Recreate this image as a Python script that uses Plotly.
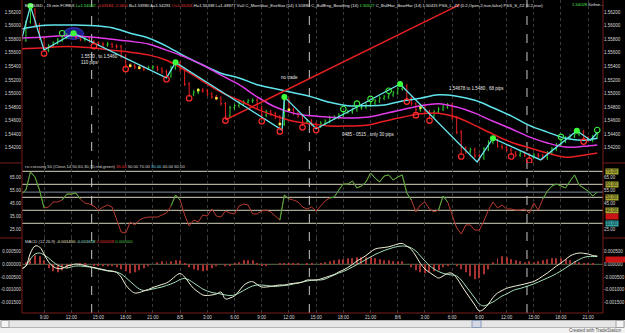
import plotly.graph_objects as go
import pandas as pd

# ---------------- data ----------------
bar_times = pd.date_range("2008-08-04 06:30", periods=128, freq="30min")

opens = [1.5576, 1.5579, 1.5606, 1.5623, 1.5601, 1.5582, 1.5564, 1.5570, 1.5575, 1.5579,
         1.5583, 1.5586, 1.5588, 1.5583, 1.5580, 1.5582, 1.5577, 1.5575, 1.5573, 1.5572,
         1.5573, 1.5570, 1.5569, 1.5555, 1.5542, 1.5541, 1.5539, 1.5538, 1.5536, 1.5538,
         1.5539, 1.5536, 1.5532, 1.5526, 1.5538, 1.5545, 1.5535, 1.5514, 1.5499, 1.5502,
         1.5505, 1.5504, 1.5499, 1.5495, 1.5493, 1.5485, 1.5467, 1.5479, 1.5482, 1.5486,
         1.5487, 1.5489, 1.5490, 1.5479, 1.5468, 1.5473, 1.5470, 1.5465, 1.5455, 1.5490,
         1.5476, 1.5471, 1.5467, 1.5458, 1.5459, 1.5455, 1.5452, 1.5456, 1.5459, 1.5464,
         1.5465, 1.5468, 1.5471, 1.5473, 1.5476, 1.5479, 1.5480, 1.5483, 1.5486, 1.5489,
         1.5493, 1.5495, 1.5498, 1.5501, 1.5507, 1.5511, 1.5493, 1.5485, 1.5476, 1.5479,
         1.5473, 1.5467, 1.5473, 1.5477, 1.5480, 1.5483, 1.5464, 1.5443, 1.5420, 1.5414,
         1.5417, 1.5408, 1.5405, 1.5418, 1.5428, 1.5431, 1.5422, 1.5420, 1.5417, 1.5412,
         1.5409, 1.5412, 1.5409, 1.5406, 1.5409, 1.5408, 1.5405, 1.5412, 1.5418, 1.5424,
         1.5430, 1.5434, 1.5437, 1.5440, 1.5443, 1.5434, 1.5431, 1.5436]
highs = [1.5585, 1.5608, 1.5629, 1.5626, 1.5604, 1.5585, 1.5573, 1.5577, 1.5582, 1.5586,
         1.5589, 1.5591, 1.5591, 1.5586, 1.5585, 1.5583, 1.5579, 1.5577, 1.5576, 1.5576,
         1.5575, 1.5573, 1.5572, 1.5558, 1.5545, 1.5544, 1.5542, 1.5541, 1.5541, 1.5542,
         1.5541, 1.5539, 1.5535, 1.5541, 1.5546, 1.5548, 1.5538, 1.5517, 1.5505, 1.5508,
         1.5508, 1.5507, 1.5502, 1.5498, 1.5496, 1.5487, 1.5482, 1.5485, 1.5489, 1.5490,
         1.5492, 1.5493, 1.5493, 1.5482, 1.5476, 1.5476, 1.5473, 1.5468, 1.5495, 1.5493,
         1.5479, 1.5474, 1.5470, 1.5462, 1.5462, 1.5458, 1.5459, 1.5462, 1.5467, 1.5468,
         1.5471, 1.5474, 1.5476, 1.5479, 1.5482, 1.5483, 1.5486, 1.5489, 1.5492, 1.5496,
         1.5498, 1.5501, 1.5504, 1.5510, 1.5514, 1.5514, 1.5496, 1.5487, 1.5482, 1.5482,
         1.5476, 1.5476, 1.5480, 1.5483, 1.5486, 1.5486, 1.5467, 1.5446, 1.5422, 1.5420,
         1.5420, 1.5411, 1.5421, 1.5431, 1.5436, 1.5434, 1.5425, 1.5422, 1.5420, 1.5415,
         1.5415, 1.5415, 1.5412, 1.5412, 1.5412, 1.5411, 1.5415, 1.5421, 1.5427, 1.5433,
         1.5437, 1.5440, 1.5443, 1.5446, 1.5446, 1.5437, 1.5439, 1.5443]
lows = [1.5573, 1.5576, 1.5603, 1.5597, 1.5579, 1.5561, 1.5561, 1.5567, 1.5572, 1.5576,
        1.5580, 1.5583, 1.5580, 1.5577, 1.5577, 1.5575, 1.5572, 1.5570, 1.5569, 1.5569,
        1.5567, 1.5566, 1.5552, 1.5538, 1.5538, 1.5536, 1.5535, 1.5533, 1.5535, 1.5535,
        1.5533, 1.5529, 1.5523, 1.5523, 1.5535, 1.5532, 1.5511, 1.5495, 1.5496, 1.5499,
        1.5501, 1.5496, 1.5492, 1.5490, 1.5482, 1.5462, 1.5464, 1.5476, 1.5479, 1.5483,
        1.5485, 1.5486, 1.5476, 1.5461, 1.5465, 1.5467, 1.5462, 1.5446, 1.5452, 1.5473,
        1.5468, 1.5464, 1.5452, 1.5455, 1.5452, 1.5448, 1.5449, 1.5453, 1.5456, 1.5461,
        1.5462, 1.5465, 1.5470, 1.5470, 1.5473, 1.5476, 1.5477, 1.5480, 1.5483, 1.5486,
        1.5490, 1.5492, 1.5495, 1.5498, 1.5504, 1.5490, 1.5482, 1.5470, 1.5473, 1.5470,
        1.5462, 1.5464, 1.5470, 1.5474, 1.5477, 1.5461, 1.5440, 1.5409, 1.5411, 1.5411,
        1.5405, 1.5400, 1.5402, 1.5415, 1.5425, 1.5420, 1.5417, 1.5414, 1.5409, 1.5406,
        1.5406, 1.5406, 1.5403, 1.5403, 1.5405, 1.5402, 1.5402, 1.5409, 1.5415, 1.5421,
        1.5427, 1.5431, 1.5434, 1.5437, 1.5431, 1.5428, 1.5428, 1.5433]
closes = [1.5579, 1.5606, 1.5623, 1.5601, 1.5582, 1.5564, 1.5570, 1.5575, 1.5579, 1.5583,
          1.5586, 1.5588, 1.5583, 1.5580, 1.5582, 1.5577, 1.5575, 1.5573, 1.5572, 1.5573,
          1.5570, 1.5569, 1.5555, 1.5542, 1.5541, 1.5539, 1.5538, 1.5536, 1.5538, 1.5539,
          1.5536, 1.5532, 1.5526, 1.5538, 1.5545, 1.5535, 1.5514, 1.5499, 1.5502, 1.5505,
          1.5504, 1.5499, 1.5495, 1.5493, 1.5485, 1.5467, 1.5479, 1.5482, 1.5486, 1.5487,
          1.5489, 1.5490, 1.5479, 1.5468, 1.5473, 1.5470, 1.5465, 1.5455, 1.5490, 1.5476,
          1.5471, 1.5467, 1.5458, 1.5459, 1.5455, 1.5452, 1.5456, 1.5459, 1.5464, 1.5465,
          1.5468, 1.5471, 1.5473, 1.5476, 1.5479, 1.5480, 1.5483, 1.5486, 1.5489, 1.5493,
          1.5495, 1.5498, 1.5501, 1.5507, 1.5511, 1.5493, 1.5485, 1.5476, 1.5479, 1.5473,
          1.5467, 1.5473, 1.5477, 1.5480, 1.5483, 1.5464, 1.5443, 1.5420, 1.5414, 1.5417,
          1.5408, 1.5405, 1.5418, 1.5428, 1.5431, 1.5422, 1.5420, 1.5417, 1.5412, 1.5409,
          1.5412, 1.5409, 1.5406, 1.5409, 1.5408, 1.5405, 1.5412, 1.5418, 1.5424, 1.5430,
          1.5434, 1.5437, 1.5440, 1.5443, 1.5434, 1.5431, 1.5436, 1.5440]

band_idx = list(range(0, 128, 4)) + [127]
keltner_upper = [1.5595, 1.5600, 1.5601, 1.5601, 1.5600, 1.5597, 1.5589, 1.5582, 1.5570, 1.5555,
                 1.5542, 1.5530, 1.5523, 1.5513, 1.5507, 1.5501, 1.5495, 1.5487, 1.5482, 1.5482,
                 1.5483, 1.5489, 1.5493, 1.5498, 1.5496, 1.5490, 1.5479, 1.5467, 1.5453, 1.5443,
                 1.5434, 1.5431, 1.5434]
keltner_mid = [1.5582, 1.5583, 1.5585, 1.5585, 1.5583, 1.5580, 1.5577, 1.5573, 1.5564, 1.5554,
               1.5542, 1.5527, 1.5513, 1.5495, 1.5480, 1.5471, 1.5467, 1.5465, 1.5464, 1.5465,
               1.5470, 1.5476, 1.5482, 1.5485, 1.5480, 1.5471, 1.5459, 1.5448, 1.5436, 1.5427,
               1.5421, 1.5422, 1.5424]
keltner_lower = [1.5566, 1.5567, 1.5569, 1.5569, 1.5567, 1.5564, 1.5561, 1.5557, 1.5549, 1.5535,
                 1.5518, 1.5502, 1.5490, 1.5477, 1.5467, 1.5459, 1.5455, 1.5452, 1.5452, 1.5453,
                 1.5459, 1.5465, 1.5470, 1.5471, 1.5465, 1.5453, 1.5440, 1.5428, 1.5420, 1.5412,
                 1.5406, 1.5409, 1.5412]

zigzag_times = ["2008-08-04 06:30", "2008-08-04 07:30", "2008-08-04 09:00", "2008-08-04 12:15",
                "2008-08-04 22:30", "2008-08-04 23:30", "2008-08-05 11:15", "2008-08-05 11:30",
                "2008-08-05 15:00", "2008-08-06 00:15", "2008-08-06 08:45", "2008-08-06 10:30",
                "2008-08-06 15:45", "2008-08-06 19:45", "2008-08-06 21:15", "2008-08-06 22:00"]
zigzag_prices = [1.5579, 1.5629, 1.5564, 1.5589, 1.5523, 1.5546, 1.5446, 1.5495,
                 1.5448, 1.5514, 1.5399, 1.5434, 1.5402, 1.5445, 1.5431, 1.5442]
peak_points = [1, 3, 5, 7, 9, 11, 13]

trend_times = ["2008-08-05 05:00", "2008-08-06 06:50"]
trend_prices = [1.5461, 1.5631]

red_circle_bars = [5, 16, 23, 32, 37, 45, 53, 57, 62, 65, 85, 87, 90, 97, 108, 112, 124]
green_circle_bars = [9, 71, 74, 77, 81, 119, 127]
yellow_bars = [24, 26, 39, 43, 57, 59, 88]

rsi = [52.5, 55.6, 69.5, 65.6, 55.6, 41.8, 42.5, 46.4, 46.4, 47.9,
       52.5, 52.5, 53.3, 48.7, 45.6, 44.8, 43.3, 40.2, 42.5, 44.1,
       42.5, 32.5, 23.3, 22.5, 31.0, 28.7, 32.5, 34.1, 34.8, 34.8,
       34.8, 36.4, 37.9, 43.3, 51.8, 47.9, 36.4, 27.9, 32.5, 31.0,
       36.4, 35.6, 41.0, 35.6, 34.8, 39.5, 37.9, 37.2, 43.3, 44.8,
       44.1, 37.2, 37.2, 39.5, 40.2, 38.7, 35.6, 32.5, 51.8, 48.7,
       47.9, 46.4, 42.5, 41.0, 42.5, 39.5, 43.3, 47.2, 49.5, 50.2,
       55.6, 60.2, 60.2, 62.5, 57.2, 58.7, 61.8, 68.7, 64.8, 61.8,
       66.4, 67.2, 63.3, 65.6, 67.2, 53.3, 47.9, 38.7, 44.1, 46.4,
       41.0, 38.7, 40.2, 51.0, 46.4, 35.6, 26.4, 21.8, 28.7, 28.7,
       24.8, 24.8, 31.8, 40.2, 46.4, 41.8, 44.1, 41.0, 41.0, 40.2,
       40.2, 41.0, 37.9, 45.6, 40.2, 48.7, 54.8, 58.7, 60.2, 58.7,
       57.2, 62.5, 67.2, 59.5, 57.2, 54.8, 51.0, 54.1]
rsi_levels = [70, 60, 50, 40, 30]
rsi_avg_level = 54

macd = [-0.000185, -0.000067, 0.000446, 0.000722, 0.000683, 0.000406, 0.000091, -0.000087, -0.000166, -0.000166,
        -0.000067, -0.000028, 0.000012, -0.000008, -0.000047, -0.000087, -0.000126, -0.000166, -0.000205, -0.000245,
        -0.000264, -0.000324, -0.000501, -0.000817, -0.001014, -0.001133, -0.001113, -0.001054, -0.000994, -0.000915,
        -0.000856, -0.000797, -0.000738, -0.000620, -0.000462, -0.000363, -0.000501, -0.000738, -0.000955, -0.001093,
        -0.001211, -0.001231, -0.001211, -0.001172, -0.001093, -0.001369, -0.001330, -0.001251, -0.001054, -0.000837,
        -0.000718, -0.000687, -0.000797, -0.000896, -0.000896, -0.000876, -0.000837, -0.000817, -0.000817, -0.000777,
        -0.000750, -0.000738, -0.000698, -0.000620, -0.000620, -0.000620, -0.000580, -0.000521, -0.000462, -0.000402,
        -0.000304, -0.000225, -0.000126, -0.000008, 0.000130, 0.000229, 0.000347, 0.000485, 0.000604, 0.000643,
        0.000663, 0.000691, 0.000742, 0.000801, 0.000821, 0.000722, 0.000584, 0.000328, 0.000032, -0.000185,
        -0.000324, -0.000442, -0.000541, -0.000462, -0.000355, -0.000355, -0.000541, -0.000817, -0.001093, -0.001350,
        -0.001606, -0.001843, -0.001764, -0.001567, -0.001310, -0.001133, -0.001034, -0.000947, -0.000896, -0.000856,
        -0.000817, -0.000777, -0.000726, -0.000679, -0.000580, -0.000462, -0.000343, -0.000205, -0.000067, 0.000051,
        0.000189, 0.000328, 0.000406, 0.000446, 0.000434, 0.000406, 0.000347, 0.000328]
signal = [-0.000185, -0.000067, 0.000209, 0.000406, 0.000446, 0.000367, 0.000249, 0.000091, -0.000028, -0.000107,
          -0.000146, -0.000107, -0.000067, -0.000067, -0.000087, -0.000107, -0.000146, -0.000185, -0.000225, -0.000264,
          -0.000284, -0.000304, -0.000383, -0.000521, -0.000679, -0.000837, -0.000975, -0.001034, -0.001014, -0.000975,
          -0.000935, -0.000896, -0.000837, -0.000777, -0.000698, -0.000600, -0.000560, -0.000620, -0.000738, -0.000856,
          -0.000975, -0.001054, -0.001113, -0.001144, -0.001172, -0.001211, -0.001231, -0.001211, -0.001133, -0.001034,
          -0.000935, -0.000856, -0.000817, -0.000817, -0.000837, -0.000856, -0.000876, -0.000856, -0.000837, -0.000817,
          -0.000777, -0.000738, -0.000698, -0.000659, -0.000631, -0.000620, -0.000620, -0.000580, -0.000501, -0.000422,
          -0.000343, -0.000284, -0.000205, -0.000107, -0.000008, 0.000091, 0.000189, 0.000288, 0.000387, 0.000466,
          0.000545, 0.000604, 0.000663, 0.000702, 0.000722, 0.000702, 0.000643, 0.000525, 0.000328, 0.000130,
          -0.000047, -0.000185, -0.000284, -0.000355, -0.000402, -0.000422, -0.000462, -0.000620, -0.000856, -0.001093,
          -0.001330, -0.001567, -0.001645, -0.001567, -0.001488, -0.001369, -0.001251, -0.001172, -0.001073, -0.000994,
          -0.000955, -0.000896, -0.000837, -0.000777, -0.000698, -0.000620, -0.000541, -0.000462, -0.000363, -0.000264,
          -0.000146, -0.000028, 0.000091, 0.000189, 0.000268, 0.000308, 0.000308, 0.000308]
macd_hist = [0, 0.000079, 0.000237, 0.000355, 0.000316, 0.000158, -0.000158, -0.000276, -0.000316, -0.000237,
             -0.000158, -0.000079, 0, 0.000039, 0.000039, 0, -0.000039, -0.000039, -0.000079, -0.000079,
             -0.000079, -0.000118, -0.000197, -0.000276, -0.000355, -0.000316, -0.000237, -0.000158, -0.000079, 0,
             0.000079, 0.000118, 0.000118, 0.000118, 0.000158, 0.000158, 0.000039, -0.000118, -0.000197, -0.000237,
             -0.000276, -0.000237, -0.000158, -0.000079, 0, -0.000079, -0.000039, 0.000039, 0.000079, 0.000158,
             0.000158, 0.000158, 0.000039, -0.000039, -0.000039, 0, 0, 0.000039, 0.000039, 0.000039,
             0.000039, 0.000039, 0, 0.000039, 0.000039, 0, 0.000039, 0.000079, 0.000118, 0.000158,
             0.000197, 0.000197, 0.000237, 0.000237, 0.000276, 0.000276, 0.000276, 0.000276, 0.000237, 0.000197,
             0.000158, 0.000158, 0.000118, 0.000118, 0.000118, 0, -0.000118, -0.000237, -0.000316, -0.000355,
             -0.000316, -0.000276, -0.000237, -0.000118, -0.000039, 0, -0.000079, -0.000197, -0.000316, -0.000474,
             -0.000592, -0.000552, -0.000395, -0.000197, 0.000079, 0.000237, 0.000316, 0.000276, 0.000197, 0.000158,
             0.000118, 0.000079, 0.000118, 0.000079, 0.000118, 0.000158, 0.000197, 0.000237, 0.000237, 0.000237,
             0.000197, 0.000158, 0.000118, 0.000079, 0.000039, 0.000039, 0.000039, 0]

tick_times = pd.date_range("2008-08-04 09:00", "2008-08-06 21:00", freq="3h")
tick_text = ["9:00", "12:00", "15:00", "18:00", "21:00", "8/5", "3:00", "6:00", "9:00", "12:00", "15:00",
             "18:00", "21:00", "8/6", "3:00", "6:00", "9:00", "12:00", "15:00", "18:00", "21:00"]
session_breaks = ["2008-08-04 14:15", "2008-08-05 14:15", "2008-08-06 14:15"]

price_ticks = [1.542, 1.544, 1.546, 1.548, 1.550, 1.552, 1.554, 1.556, 1.558, 1.560, 1.562]
rsi_ticks_left = [25, 35, 45, 55, 65]
rsi_ticks_right = [25, 45, 55, 65]
macd_ticks = [0.0005, 0.0, -0.0005, -0.001, -0.0015]
macd_tick_text = ["0.000500", "0.000000", "-0.000500", "-0.001000", "-0.001500"]

# ---------------- layout helpers (pixel -> paper) ----------------
W, H = 625, 333
ML, MR, MT, MB = 22, 22, 0, 20
PW, PH = W - ML - MR, H - MT - MB


def px(x):
    return (x - ML) / PW


def py(y):
    return (H - MB - y) / PH


FONT = "Liberation Sans, Arial, sans-serif"
TXT = "#d8d8d8"
FS = 4.5
HFS = 4.2

price_dom = [py(163), 1]
rsi_dom = [py(238), py(163)]
macd_dom = [0, py(238)]

fig = go.Figure()

# ---------------- price panel ----------------
band_times = [bar_times[i] for i in band_idx]
fig.add_trace(go.Scatter(x=band_times, y=keltner_upper, mode="lines", line=dict(color="#5fe4ec", width=1.5, shape="spline"), yaxis="y"))
fig.add_trace(go.Scatter(x=band_times, y=keltner_mid, mode="lines", line=dict(color="#e03ce8", width=1.5, shape="spline"), yaxis="y"))
fig.add_trace(go.Scatter(x=band_times, y=keltner_lower, mode="lines", line=dict(color="#e81e24", width=1.5, shape="spline"), yaxis="y"))

fig.add_trace(go.Ohlc(x=bar_times, open=opens, high=highs, low=lows, close=closes, yaxis="y",
                      increasing=dict(line=dict(color="#2ec82e", width=1)),
                      decreasing=dict(line=dict(color="#e82020", width=1)), tickwidth=0.25))

fig.add_trace(go.Scatter(x=trend_times, y=trend_prices, mode="lines", line=dict(color="#e82020", width=1.4), yaxis="y"))
fig.add_trace(go.Scatter(x=zigzag_times, y=zigzag_prices, mode="lines", line=dict(color="#6ae8f2", width=1.3), yaxis="y"))

fig.add_trace(go.Scatter(x=[bar_times[i] for i in red_circle_bars], y=[lows[i] - 0.0002 for i in red_circle_bars],
                         mode="markers", marker=dict(symbol="circle-open", size=5.5, color="#ff2a2a", line=dict(width=1.2)), yaxis="y"))
fig.add_trace(go.Scatter(x=[bar_times[i] for i in green_circle_bars], y=[highs[i] + 0.0003 for i in green_circle_bars],
                         mode="markers", marker=dict(symbol="circle-open", size=5.5, color="#3ef03e", line=dict(width=1.1)), yaxis="y"))
fig.add_trace(go.Scatter(x=[bar_times[i] for i in yellow_bars], y=[closes[i] for i in yellow_bars],
                         mode="markers", marker=dict(symbol="square", size=2.5, color="#f0f040"), yaxis="y"))
fig.add_trace(go.Scatter(x=[zigzag_times[i] for i in peak_points], y=[zigzag_prices[i] for i in peak_points],
                         mode="markers", marker=dict(symbol="circle", size=6, color="#3cff3c"), yaxis="y"))
fig.add_trace(go.Scatter(x=[bar_times[0]], y=[closes[0]], mode="markers", marker=dict(opacity=0), yaxis="y4"))

# ---------------- RSI panel ----------------
n = len(rsi)
rsi_green = [v if (v >= 50 or (i > 0 and rsi[i - 1] >= 50) or (i < n - 1 and rsi[i + 1] >= 50)) else None
             for i, v in enumerate(rsi)]
fig.add_trace(go.Scatter(x=bar_times, y=rsi, mode="lines", line=dict(color="#b83a30", width=1), yaxis="y2"))
fig.add_trace(go.Scatter(x=bar_times, y=rsi_green, mode="lines", line=dict(color="#3cb83c", width=1), yaxis="y2", connectgaps=False))
fig.add_trace(go.Scatter(x=[bar_times[0]], y=[rsi[0]], mode="markers", marker=dict(opacity=0), yaxis="y5"))

# ---------------- MACD panel ----------------
fig.add_trace(go.Bar(x=bar_times, y=macd_hist, marker=dict(color="#a83232", line=dict(width=0)), width=0.22 * 1800000, yaxis="y3"))
fig.add_trace(go.Scatter(x=bar_times, y=signal, mode="lines", line=dict(color="#a4e0bc", width=1, shape="spline"), yaxis="y3"))
fig.add_trace(go.Scatter(x=bar_times, y=macd, mode="lines", line=dict(color="#f2f2d8", width=1, shape="spline"), yaxis="y3"))
fig.add_trace(go.Scatter(x=[bar_times[0]], y=[macd[0]], mode="markers", marker=dict(opacity=0), yaxis="y6"))

# ---------------- shapes ----------------
shapes = []
pk = pd.Timestamp(zigzag_times[3])
shapes.append(dict(type="circle", xref="x", yref="y", layer="below",
                   x0=pk - pd.Timedelta(minutes=66), x1=pk + pd.Timedelta(minutes=66),
                   y0=zigzag_prices[3] - 0.0009, y1=zigzag_prices[3] + 0.0008,
                   fillcolor="#1a1a8a", line=dict(color="#3a3ad0", width=1)))
for lv in rsi_levels:
    shapes.append(dict(type="line", xref="paper", yref="y2", x0=0, x1=1, y0=lv, y1=lv,
                       line=dict(color="#d6d4bc", width=1), layer="below"))
shapes.append(dict(type="line", xref="paper", yref="y2", x0=0, x1=1, y0=rsi_avg_level, y1=rsi_avg_level,
                   line=dict(color="#7c8ea0", width=1), layer="below"))
shapes.append(dict(type="line", xref="paper", yref="y3", x0=0, x1=1, y0=0, y1=0,
                   line=dict(color="#55704a", width=1), layer="below"))
for sb in session_breaks:
    shapes.append(dict(type="line", xref="x", yref="paper", x0=sb, x1=sb, y0=0, y1=1,
                       line=dict(color="#c8c8c8", width=1, dash="dash"), layer="below"))
FR = "#7a1c1c"
shapes.append(dict(type="line", xref="paper", yref="paper", x0=0, x1=0, y0=0, y1=1, line=dict(color=FR, width=1)))
shapes.append(dict(type="line", xref="paper", yref="paper", x0=1, x1=1, y0=0, y1=1, line=dict(color=FR, width=1)))
shapes.append(dict(type="line", xref="paper", yref="paper", x0=0, x1=1, y0=0, y1=0, line=dict(color=FR, width=1)))
for yy in (163, 238):
    shapes.append(dict(type="line", xref="paper", yref="paper", x0=px(0), x1=0, y0=py(yy), y1=py(yy), line=dict(color=FR, width=1)))
    shapes.append(dict(type="line", xref="paper", yref="paper", x0=1, x1=px(W), y0=py(yy), y1=py(yy), line=dict(color=FR, width=1)))
shapes.append(dict(type="rect", xref="paper", yref="paper", x0=px(0), x1=px(W), y0=py(H), y1=py(320),
                   fillcolor="#f2f2f2", line=dict(width=0)))
shapes.append(dict(type="rect", xref="paper", yref="paper", x0=px(1), x1=px(W - 1), y0=py(327.5), y1=py(320.5),
                   fillcolor="#e6e6e6", line=dict(color="#b4b4b4", width=1)))
shapes.append(dict(type="rect", xref="paper", yref="paper", x0=px(1), x1=px(9), y0=py(327.5), y1=py(320.5),
                   fillcolor="#f4f4f4", line=dict(color="#a0a0a0", width=1)))
shapes.append(dict(type="rect", xref="paper", yref="paper", x0=px(616), x1=px(624), y0=py(327.5), y1=py(320.5),
                   fillcolor="#f4f4f4", line=dict(color="#a0a0a0", width=1)))
shapes.append(dict(type="rect", xref="paper", yref="paper", x0=px(472), x1=px(481), y0=py(327.5), y1=py(320.5),
                   fillcolor="#d4d8e4", line=dict(color="#8898b8", width=1)))

# ---------------- annotations ----------------
G, R, Wt = "#4ee04e", "#e83a3a", "#e8e8e8"
price_header = (f'<span style="color:{Wt}">EURUSD - 15 min FOREX</span> <span style="color:{G}">L=1.54062</span> '
                f'<span style="color:{R}">-0.03184 -2.06%</span> B=1.53980 A=1.54291 <span style="color:{R}">O=1.55206</span> '
                f'H=1.55338 L=1.48977 V=0 C_MornStar_EveStar (14) 1.51880 C_BullEng_BearEng (14) '
                f'<span style="color:{G}">1.50527</span> C_BullHar_BearHar (14) 1.50415 '
                f'PSS_L_ZZ (0.2,Open,2,true,false) PSS_S_ZZ (0.2,true)')
price_header_end = f'<span style="color:{G}">1.54028</span> Keltne...'
rsi_header = (f'rsi crossing 50 (Close,14,50,60,30,70,red,green) <span style="color:{R}">35.00</span> '
              f'50.00 70.00 <span style="color:#7ad0e0">30.00</span> 40.00 60.00')
macd_header = ('MACD (12,26,9) <span style="color:#f2f2c8">-0.001400</span> <span style="color:#9ee0d0">-0.001608</span> '
               f'<span style="color:{R}">0.000208</span> <span style="color:#4ec04e">0.000000</span>')

ann = []
ann.append(dict(xref="paper", yref="paper", x=px(23), y=py(0.5), xanchor="left", yanchor="top", showarrow=False,
                text=price_header, font=dict(size=HFS, color=Wt, family=FONT)))
ann.append(dict(xref="paper", yref="paper", x=px(570), y=py(0.5), xanchor="left", yanchor="top", showarrow=False,
                text=price_header_end, font=dict(size=HFS, color=Wt, family=FONT)))
ann.append(dict(xref="paper", yref="paper", x=px(23), y=py(166), xanchor="left", yanchor="middle", showarrow=False,
                text=rsi_header, font=dict(size=HFS, color=TXT, family=FONT)))
ann.append(dict(xref="paper", yref="paper", x=px(23), y=py(241), xanchor="left", yanchor="middle", showarrow=False,
                text=macd_header, font=dict(size=HFS, color=TXT, family=FONT)))
note_font = dict(size=FS, color="#e8e8e8", family=FONT)
ann.append(dict(xref="x", yref="y", x="2008-08-04 12:50", y=1.5550, xanchor="left", yanchor="middle", showarrow=False,
                align="left", text="1.5570 , to 1.5460<br>110 pips", font=note_font))
ann.append(dict(xref="x", yref="y", x="2008-08-05 12:05", y=1.5524, xanchor="center", yanchor="middle", showarrow=False,
                text="no trade", font=note_font))
ann.append(dict(xref="x", yref="y", x="2008-08-05 17:35", y=1.5440, xanchor="left", yanchor="middle", showarrow=False,
                text="0485 - 0515 , only 30 pips", font=note_font))
ann.append(dict(xref="x", yref="y", x="2008-08-06 05:25", y=1.5507, xanchor="left", yanchor="middle", showarrow=False,
                text="1.54678 to 1.5480 , 68 pips", font=note_font))
for lv, bg in [(70, "#a8a830"), (60, "#a8a830"), (50, "#a8a830"), (40, "#a8a830"), (30, "#30a8a8"), (35, "#c81414")]:
    ann.append(dict(xref="paper", yref="y2", x=1.004, y=lv, xanchor="left", yanchor="middle", showarrow=False,
                    text=f"{lv:.2f}", bgcolor=bg, borderpad=0,
                    font=dict(size=FS, color="#1a1a1a" if lv != 35 else "#c81414", family=FONT)))
ann.append(dict(xref="paper", yref="y3", x=1.004, y=0.000208, xanchor="left", yanchor="middle", showarrow=False,
                text="0.000208", bgcolor="#c81414", borderpad=0, font=dict(size=FS, color="#c81414", family=FONT)))
ann.append(dict(xref="paper", yref="paper", x=px(W - 1), y=py(330.5), xanchor="right", yanchor="middle", showarrow=False,
                text="Created with TradeStation", font=dict(size=FS, color="#505050", family=FONT)))

axis_font = dict(size=FS, color=TXT, family=FONT)
common_y = dict(showgrid=False, zeroline=False, ticks="", showline=False, tickfont=axis_font, fixedrange=True)

fig.update_layout(
    width=W, height=H, autosize=False,
    margin=dict(l=ML, r=MR, t=MT, b=MB),
    paper_bgcolor="#000000", plot_bgcolor="#000000",
    showlegend=False, hovermode=False, barmode="overlay",
    shapes=shapes, annotations=ann,
    xaxis=dict(type="date", anchor="y3", domain=[0, 1], range=["2008-08-04 06:34", "2008-08-06 22:38"],
               tickmode="array", tickvals=list(tick_times), ticktext=tick_text, tickfont=axis_font, ticks="",
               showgrid=True, gridcolor="#3a3a3a", griddash="dot", gridwidth=1, zeroline=False,
               showline=False, rangeslider=dict(visible=False)),
    yaxis=dict(domain=price_dom, anchor="x", range=[1.53974, 1.5638], tickmode="array", tickvals=price_ticks,
               ticktext=[f"{v:.5f}" for v in price_ticks], side="left", **common_y),
    yaxis4=dict(overlaying="y", anchor="x", side="right", range=[1.53974, 1.5638], tickmode="array",
                tickvals=price_ticks, ticktext=[f"{v:.5f}" for v in price_ticks], **common_y),
    yaxis2=dict(domain=rsi_dom, anchor="x", range=[18.7, 76.4], tickmode="array", tickvals=rsi_ticks_left,
                ticktext=[f"{v:.2f}" for v in rsi_ticks_left], side="left", **common_y),
    yaxis5=dict(overlaying="y2", anchor="x", side="right", range=[18.7, 76.4], tickmode="array",
                tickvals=rsi_ticks_right, ticktext=[f"{v:.2f}" for v in rsi_ticks_right], **common_y),
    yaxis3=dict(domain=macd_dom, anchor="x", range=[-0.001922, 0.001038], tickmode="array", tickvals=macd_ticks,
                ticktext=macd_tick_text, side="left", **common_y),
    yaxis6=dict(overlaying="y3", anchor="x", side="right", range=[-0.001922, 0.001038], tickmode="array",
                tickvals=macd_ticks, ticktext=macd_tick_text, **common_y),
)

fig.write_html("out.html")
